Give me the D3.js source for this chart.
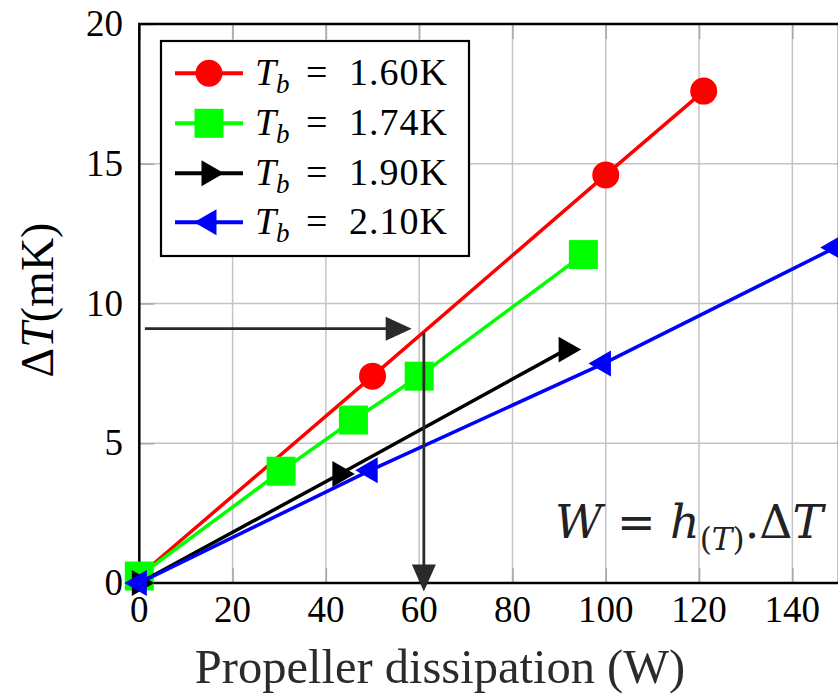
<!DOCTYPE html>
<html>
<head>
<meta charset="utf-8">
<script src="https://cdn.jsdelivr.net/npm/d3@7"></script>
<style>
  html, body { margin: 0; padding: 0; background: #fff; }
  svg { display: block; }
</style>
</head>
<body>
<script>
// Temperature rise against propeller dissipation, one series per bath temperature
const seriesNames = ["1.60", "1.74", "1.90", "2.10"];
const seriesColors = ["#ff0000", "#00ff00", "#000000", "#0000ff"];
const seriesMarkers = ["circle", "square", "triRight", "triLeft"];

const power160 = [0, 50, 100, 121];
const dT160 = [0.25, 7.4, 14.6, 17.6];
const power174 = [0, 30.4, 45.9, 60, 95.2];
const dT174 = [0.25, 4.0, 5.83, 7.4, 11.75];
const power190 = [0, 43, 91.5];
const dT190 = [0, 3.9, 8.35];
const power210 = [0, 49.5, 99.5, 149.2];
const dT210 = [0, 4.03, 7.85, 12.0];

const xTicks = [0, 20, 40, 60, 80, 100, 120, 140];
const yTicks = [0, 5, 10, 15, 20];

// Reading guide: from ΔT axis across to the curve, then down to the power axis
const guideH = { x: [1.2, 58.4], y: [9.1, 9.1] };
const guideV = { x: [61, 61], y: [8.95, -0.3] };

const W = 838, H = 695;
const svg = d3.select("body").append("svg").attr("width", W).attr("height", H);

const x = d3.scaleLinear().domain([0, 150]).range([139.3, 839]);
const y = d3.scaleLinear().domain([0, 20]).range([583, 24]);

const serif = "'Liberation Serif', 'Times New Roman', serif";

// grid
const grid = svg.append("g");
grid.selectAll("line.gx").data(xTicks).join("line")
  .attr("x1", d => x(d)).attr("x2", d => x(d)).attr("y1", y(0)).attr("y2", y(20))
  .attr("stroke", "#c4c4c4").attr("stroke-width", 1.5);
grid.selectAll("line.gy").data(yTicks).join("line")
  .attr("y1", d => y(d)).attr("y2", d => y(d)).attr("x1", x(0)).attr("x2", x(150))
  .attr("stroke", "#c4c4c4").attr("stroke-width", 1.5);

// axes with inward ticks
const xAxisB = d3.axisBottom(x).tickValues(xTicks).tickSize(-15).tickFormat("");
const xAxisT = d3.axisTop(x).tickValues(xTicks).tickSize(-15).tickFormat("");
const yAxisL = d3.axisLeft(y).tickValues(yTicks).tickSize(-15).tickFormat("");
function styleAxis(g) {
  g.select(".domain").remove();
  g.selectAll(".tick line").attr("stroke", "#a8a8a8").attr("stroke-width", 1.5);
}
svg.append("g").attr("transform", `translate(0,${y(0)})`).call(xAxisB).call(styleAxis);
svg.append("g").attr("transform", `translate(0,${y(20)})`).call(xAxisT).call(styleAxis);
svg.append("g").attr("transform", `translate(${x(0)},0)`).call(yAxisL).call(styleAxis);

// frame
svg.append("rect")
  .attr("x", x(0)).attr("y", y(20)).attr("width", x(150) - x(0)).attr("height", y(0) - y(20))
  .attr("fill", "none").attr("stroke", "#000").attr("stroke-width", 2.5);

// tick labels
svg.append("g").selectAll("text").data(xTicks).join("text")
  .attr("x", d => x(d)).attr("y", 622)
  .attr("text-anchor", "middle").attr("font-family", serif).attr("font-size", 37)
  .attr("fill", "#000").text(d => d);
svg.append("g").selectAll("text").data(yTicks).join("text")
  .attr("x", 123).attr("y", d => y(d) + 12)
  .attr("text-anchor", "end").attr("font-family", serif).attr("font-size", 37)
  .attr("fill", "#000").text(d => d);

// axis titles
svg.append("text")
  .attr("x", 440).attr("y", 683).attr("text-anchor", "middle")
  .attr("font-family", serif).attr("font-size", 48.5).attr("fill", "#2b2b2b")
  .text("Propeller dissipation (W)");

const yl = svg.append("text")
  .attr("transform", "translate(53,300) rotate(-90)")
  .attr("text-anchor", "middle").attr("font-family", serif).attr("font-size", 46)
  .attr("fill", "#000");
yl.append("tspan").text("Δ");
yl.append("tspan").attr("font-style", "italic").text("T");
yl.append("tspan").text("(mK)");

// marker shapes
function markerPath(kind) {
  if (kind === "circle") return d3.symbol(d3.symbolCircle, Math.PI * 13.5 * 13.5)();
  if (kind === "square") return d3.symbol(d3.symbolSquare, 29 * 29)();
  const r = 15;
  if (kind === "triRight") return `M${r},0L${-r / 2},${r * 0.866}L${-r / 2},${-r * 0.866}Z`;
  return `M${-r},0L${r / 2},${r * 0.866}L${r / 2},${-r * 0.866}Z`;
}

const seriesData = [
  d3.zip(power160, dT160),
  d3.zip(power174, dT174),
  d3.zip(power190, dT190),
  d3.zip(power210, dT210)
];

const line = d3.line().x(d => x(d[0])).y(d => y(d[1]));
const plot = svg.append("g");
seriesData.forEach((pts, i) => {
  const g = plot.append("g");
  g.append("path").attr("d", line(pts))
    .attr("fill", "none").attr("stroke", seriesColors[i]).attr("stroke-width", 3.5)
    .attr("stroke-linejoin", "round");
  g.selectAll("path.m").data(pts).join("path")
    .attr("class", "m")
    .attr("transform", d => `translate(${x(d[0])},${y(d[1])})`)
    .attr("d", markerPath(seriesMarkers[i]))
    .attr("fill", seriesColors[i]);
});

// guide arrows
const guideColor = "#2a2a2a";
const hx0 = x(guideH.x[0]), hx1 = x(guideH.x[1]), hy = y(guideH.y[0]);
svg.append("line").attr("x1", hx0).attr("x2", hx1 - 20).attr("y1", hy).attr("y2", hy)
  .attr("stroke", guideColor).attr("stroke-width", 2.8);
svg.append("path")
  .attr("d", `M${hx1},${hy}L${hx1 - 26},${hy - 12}L${hx1 - 26},${hy + 12}Z`)
  .attr("fill", guideColor);
const vx = x(guideV.x[0]), vy0 = y(guideV.y[0]), vy1 = y(guideV.y[1]);
svg.append("line").attr("x1", vx).attr("x2", vx).attr("y1", vy0).attr("y2", vy1 - 20)
  .attr("stroke", guideColor).attr("stroke-width", 2.8);
svg.append("path")
  .attr("d", `M${vx},${vy1}L${vx - 12},${vy1 - 27}L${vx + 12},${vy1 - 27}Z`)
  .attr("fill", guideColor);

// relation label
const eq = svg.append("text")
  .attr("x", 555).attr("y", 538)
  .attr("font-family", "'DejaVu Serif', serif").attr("font-size", 46).attr("fill", "#222");
eq.append("tspan").attr("font-style", "italic").text("W");
eq.append("tspan").text(" = ");
eq.append("tspan").attr("font-style", "italic").text("h");
eq.append("tspan").attr("font-size", 31).attr("dy", 12).text("(");
eq.append("tspan").attr("font-size", 31).attr("font-style", "italic").text("T");
eq.append("tspan").attr("font-size", 31).text(")");
eq.append("tspan").attr("dy", -12).text(".");
eq.append("tspan").text("Δ");
eq.append("tspan").attr("font-style", "italic").text("T");

// legend
const leg = svg.append("g");
leg.append("rect").attr("x", 161).attr("y", 41).attr("width", 308).attr("height", 215)
  .attr("fill", "#fff").attr("stroke", "#000").attr("stroke-width", 2.2);
const rowY = [73.3, 123.3, 173.3, 222.3];
seriesNames.forEach((name, i) => {
  const ry = rowY[i];
  leg.append("line").attr("x1", 175).attr("x2", 243).attr("y1", ry).attr("y2", ry)
    .attr("stroke", seriesColors[i]).attr("stroke-width", 4);
  leg.append("path").attr("transform", `translate(209,${ry})`)
    .attr("d", markerPath(seriesMarkers[i])).attr("fill", seriesColors[i]);
  const t = leg.append("g").attr("font-family", serif).attr("fill", "#000");
  t.append("text").attr("x", 255).attr("y", ry + 12).attr("font-size", 38)
    .attr("font-style", "italic").text("T");
  t.append("text").attr("x", 276).attr("y", ry + 20).attr("font-size", 27)
    .attr("font-style", "italic").text("b");
  t.append("text").attr("x", 306).attr("y", ry + 12).attr("font-size", 38).text("=");
  t.append("text").attr("x", 349).attr("y", ry + 12).attr("font-size", 38)
    .attr("textLength", 98).attr("lengthAdjust", "spacing").text(name + "K");
});
</script>
</body>
</html>
